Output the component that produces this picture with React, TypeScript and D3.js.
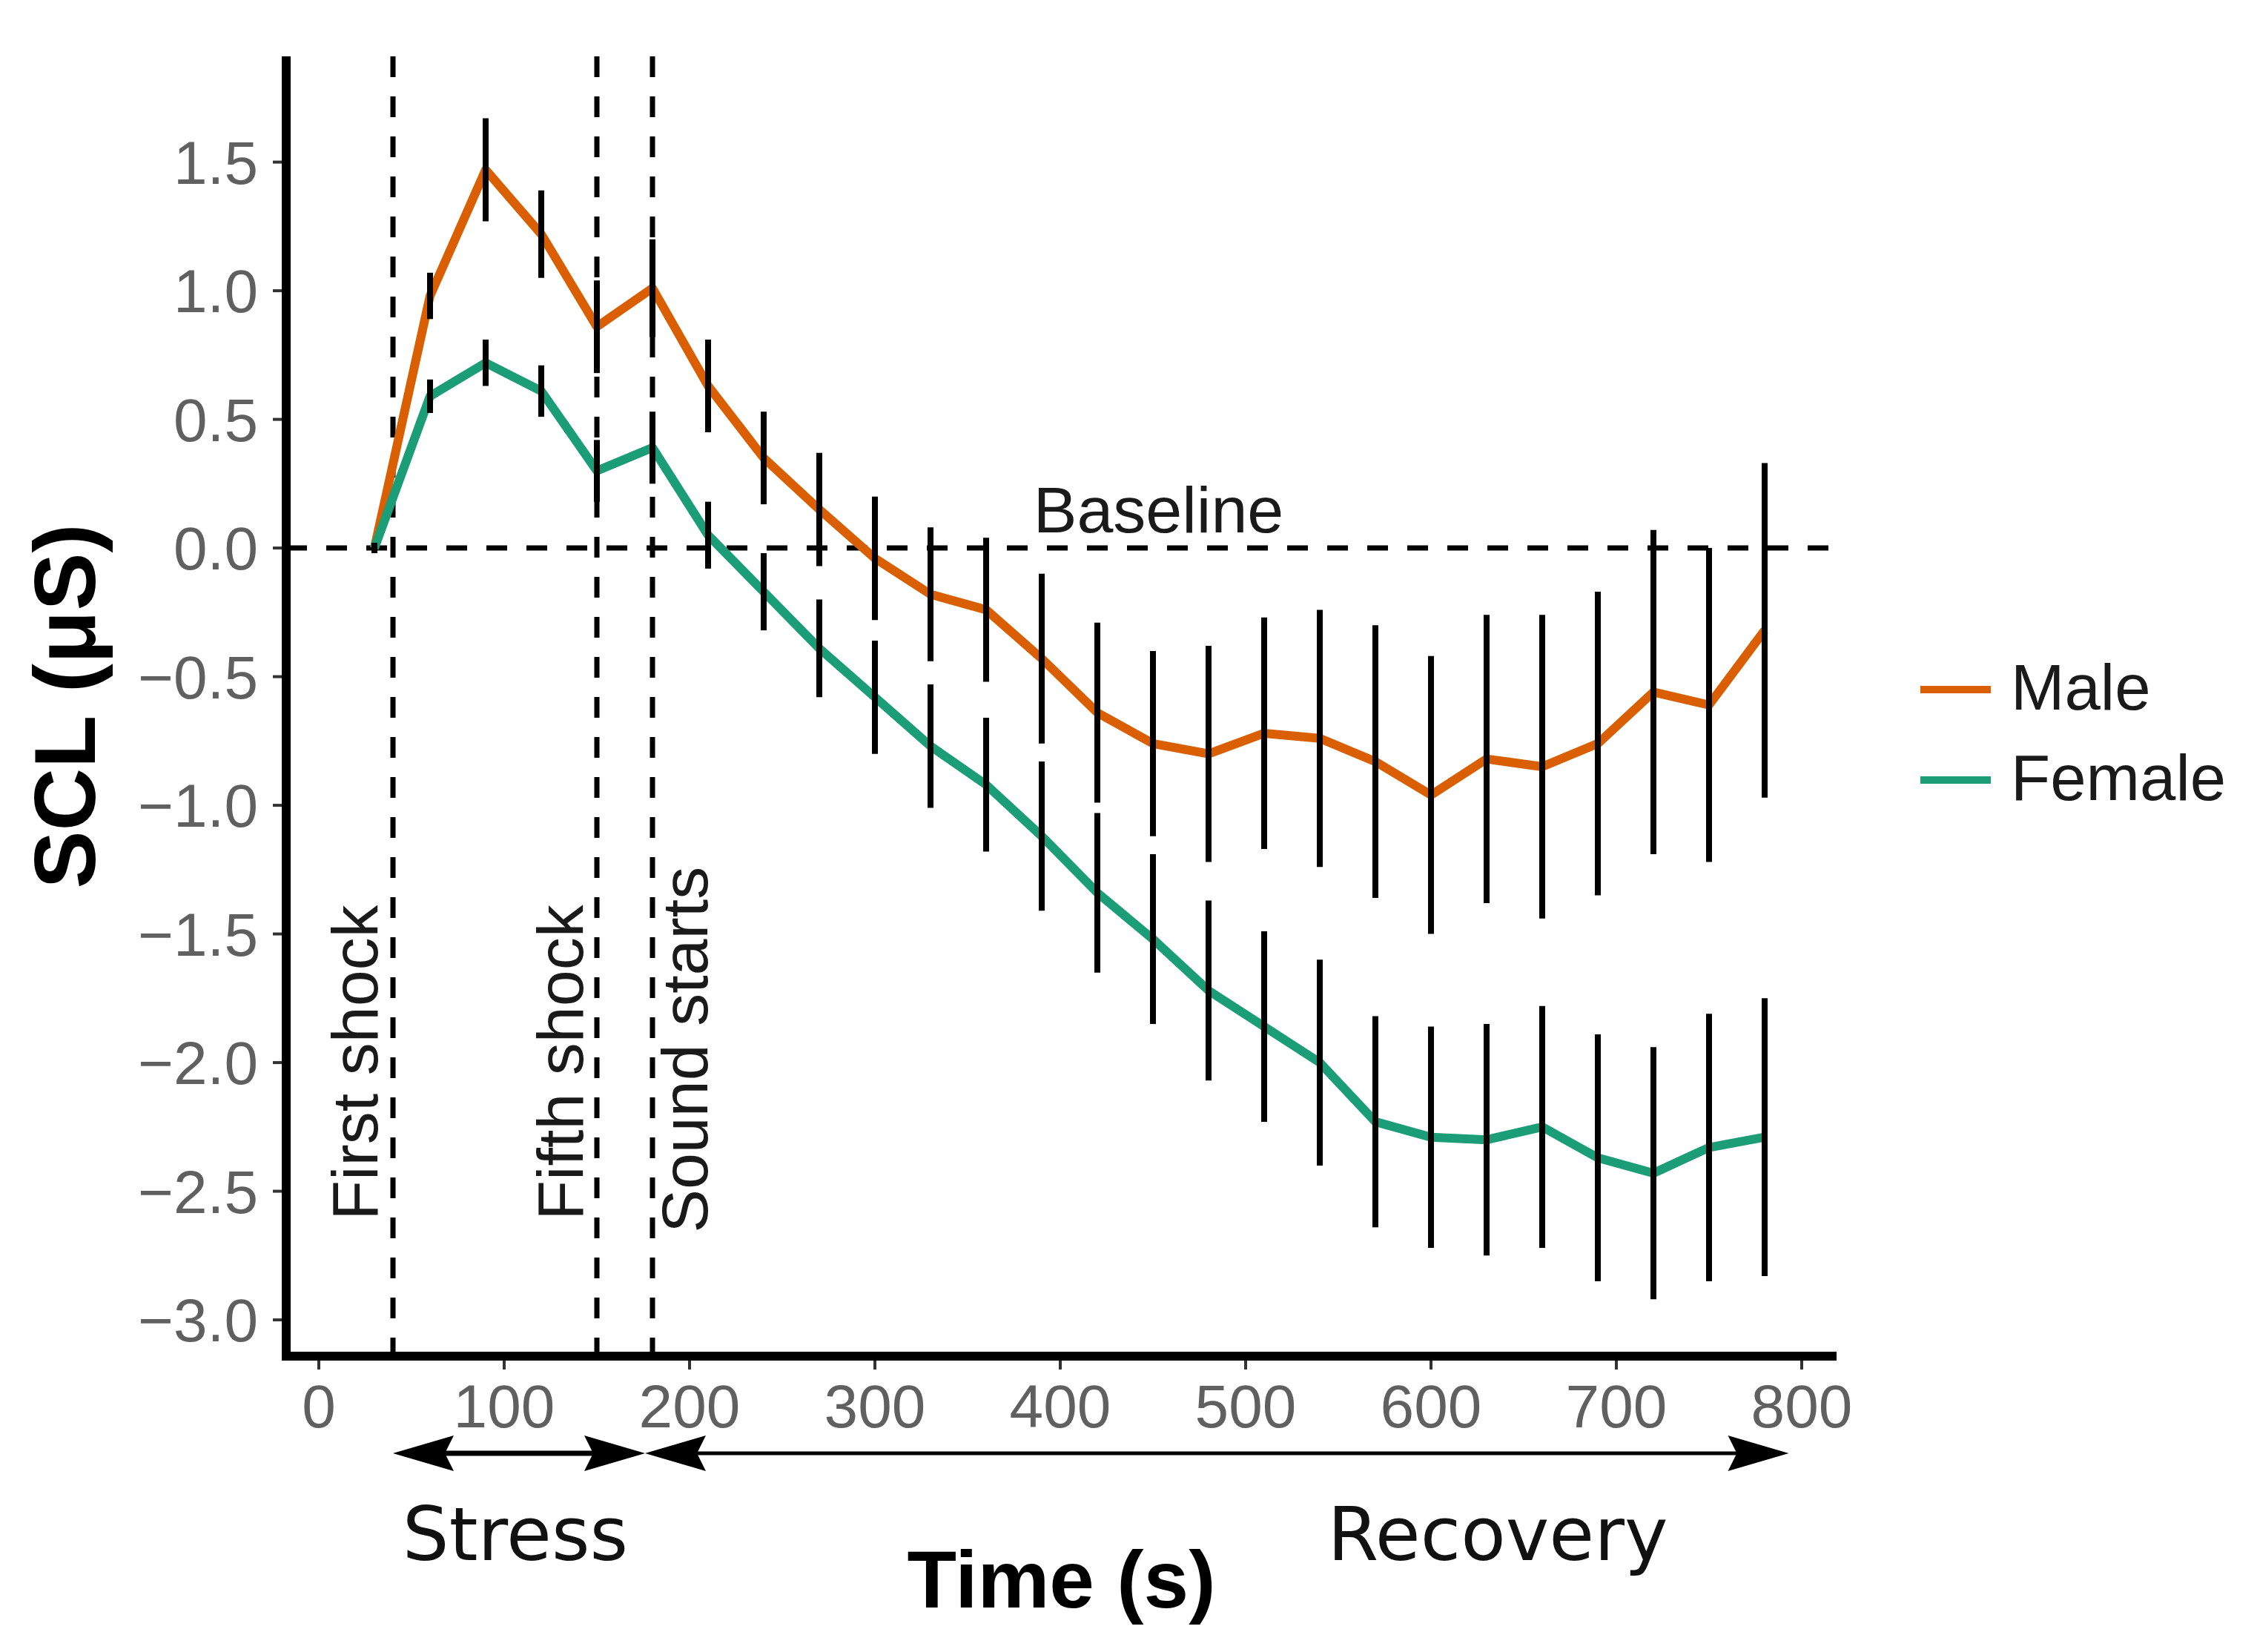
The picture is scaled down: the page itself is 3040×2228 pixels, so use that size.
import React from "react";
import * as d3 from "d3";

// time points (s) and group means / standard errors (µS)
const time = [30, 60, 90, 120, 150, 180, 210, 240, 270, 300, 330, 360, 390, 420, 450, 480, 510, 540, 570, 600, 630, 660, 690, 720, 750, 780];
const maleMean = [0.0, 0.98, 1.47, 1.22, 0.86, 1.01, 0.63, 0.35, 0.15, -0.04, -0.18, -0.24, -0.43, -0.64, -0.76, -0.8, -0.72, -0.74, -0.83, -0.96, -0.82, -0.85, -0.76, -0.56, -0.61, -0.32];
const maleSE = [0.02, 0.09, 0.2, 0.17, 0.18, 0.19, 0.18, 0.18, 0.22, 0.24, 0.26, 0.28, 0.33, 0.35, 0.36, 0.42, 0.45, 0.5, 0.53, 0.54, 0.56, 0.59, 0.59, 0.63, 0.61, 0.65];
const femaleMean = [0.0, 0.59, 0.72, 0.61, 0.3, 0.39, 0.05, -0.17, -0.39, -0.58, -0.77, -0.92, -1.12, -1.34, -1.52, -1.72, -1.86, -2.0, -2.23, -2.29, -2.3, -2.25, -2.37, -2.43, -2.33, -2.29];
const femaleSE = [0.02, 0.065, 0.09, 0.1, 0.12, 0.14, 0.13, 0.15, 0.19, 0.22, 0.24, 0.26, 0.29, 0.31, 0.33, 0.35, 0.37, 0.4, 0.41, 0.43, 0.45, 0.47, 0.48, 0.49, 0.52, 0.54];

const groups = ["Male", "Female"];
const groupColors = ["#D95F02", "#1B9E77"];

// event markers
const eventTimes = [40, 150, 180];
const eventLabels = ["First shock", "Fifth shock", "Sound starts"];
const eventLabelX = [19, 130, 197];
const eventLabelY = [-2.0, -2.0, -1.95];

// phases drawn under the axis
const phaseNames = ["Stress", "Recovery"];
const phaseStart = [40, 176];
const phaseEnd = [176, 793];
const phaseLabelX = [106, 636];

const xTicks = [0, 100, 200, 300, 400, 500, 600, 700, 800];
const yTicks = [1.5, 1.0, 0.5, 0.0, -0.5, -1.0, -1.5, -2.0, -2.5, -3.0];

const W = 3040;
const H = 2228;
const sans = "'Liberation Sans', Arial, sans-serif";
const verdanaLike = "'DejaVu Sans', Verdana, sans-serif";

const x = d3.scaleLinear().domain([-17.6, 818.8]).range([386, 2477]);
const y = d3.scaleLinear().domain([-3.141, 1.911]).range([1829, 76]);
const fmt = d3.format(".1f");

const arrowHead = (tx: number, ty: number, dir: number) => {
  const len = 82, half = 24, notch = 70;
  return `M${tx},${ty} L${tx - dir * len},${ty - half} L${tx - dir * notch},${ty} L${tx - dir * len},${ty + half} Z`;
};

const App = () => {
  const [x0, x1] = x.range();
  const [yb, yt] = y.range();
  const series = [
    { mean: maleMean, se: maleSE },
    { mean: femaleMean, se: femaleSE },
  ];
  const line = d3
    .line<number>()
    .x((_, i) => x(time[i]))
    .y((d) => y(d));
  const arrowY = 1960;

  return (
    <svg width={W} height={H} style={{ position: "absolute", left: 0, top: 0, background: "#fff" }}>
      {/* baseline */}
      <line x1={x0} x2={x1} y1={y(0)} y2={y(0)} stroke="#000" strokeWidth={7} strokeDasharray="28,26" />
      <text x={x(453)} y={y(0.15) + 31} fontFamily={sans} fontSize={88} textAnchor="middle" fill="#1a1a1a">
        Baseline
      </text>

      {/* events */}
      {eventTimes.map((t, i) => (
        <line key={"ev" + i} x1={x(t)} x2={x(t)} y1={yt} y2={yb} stroke="#000" strokeWidth={7} strokeDasharray="28,26" />
      ))}
      {eventLabels.map((l, i) => (
        <text
          key={"evl" + i}
          transform={`translate(${x(eventLabelX[i]) + 31},${y(eventLabelY[i])}) rotate(-90)`}
          fontFamily={sans}
          fontSize={88}
          textAnchor="middle"
          fill="#1a1a1a"
        >
          {l}
        </text>
      ))}

      {/* lines */}
      {series.map((s, g) => (
        <path key={"ln" + g} d={line(s.mean) || ""} fill="none" stroke={groupColors[g]} strokeWidth={12} strokeLinejoin="round" />
      ))}
      {/* error bars */}
      {series.map((s, g) =>
        s.mean.map((m, i) => (
          <line key={`eb${g}-${i}`} x1={x(time[i])} x2={x(time[i])} y1={y(m + s.se[i])} y2={y(m - s.se[i])} stroke="#000" strokeWidth={8} />
        ))
      )}

      {/* axes */}
      {yTicks.map((t) => (
        <g key={"yt" + t}>
          <line x1={x0 - 18} x2={x0} y1={y(t)} y2={y(t)} stroke="#333" strokeWidth={4} />
          <text x={348} y={y(t) + 29} fontFamily={sans} fontSize={82} textAnchor="end" fill="#606060">
            {fmt(t)}
          </text>
        </g>
      ))}
      {xTicks.map((t) => (
        <g key={"xt" + t}>
          <line x1={x(t)} x2={x(t)} y1={yb} y2={yb + 18} stroke="#333" strokeWidth={4} />
          <text x={x(t)} y={1925} fontFamily={sans} fontSize={82} textAnchor="middle" fill="#606060">
            {t}
          </text>
        </g>
      ))}
      <path d={`M${x0},${yt} V${yb} H${x1}`} fill="none" stroke="#000" strokeWidth={12} />

      {/* axis titles */}
      <text transform={`translate(128,${(yt + yb) / 2}) rotate(-90)`} fontFamily={sans} fontWeight="bold" fontSize={117} textAnchor="middle" fill="#000">
        SCL (μS)
      </text>
      <text x={(x0 + x1) / 2} y={2168} fontFamily={sans} fontWeight="bold" fontSize={109} textAnchor="middle" fill="#000">
        Time (s)
      </text>

      {/* phase arrows */}
      {phaseNames.map((p, i) => (
        <g key={"ph" + i}>
          <line x1={x(phaseStart[i]) + 60} x2={x(phaseEnd[i]) - 60} y1={arrowY} y2={arrowY} stroke="#000" strokeWidth={i === 0 ? 7 : 5} />
          <path d={arrowHead(x(phaseStart[i]), arrowY, -1)} fill="#000" />
          <path d={arrowHead(x(phaseEnd[i]), arrowY, 1)} fill="#000" />
          <text x={x(phaseLabelX[i])} y={2104} fontFamily={verdanaLike} fontSize={99} textAnchor="middle" fill="#111">
            {p}
          </text>
        </g>
      ))}

      {/* legend */}
      {groups.map((gname, g) => (
        <g key={"lg" + g} transform={`translate(2590,${930 + g * 122})`}>
          <line x1={0} x2={95} y1={0} y2={0} stroke={groupColors[g]} strokeWidth={10} />
          <text x={122} y={27} fontFamily={sans} fontSize={87} fill="#1a1a1a">
            {gname}
          </text>
        </g>
      ))}
    </svg>
  );
};

export default App;
